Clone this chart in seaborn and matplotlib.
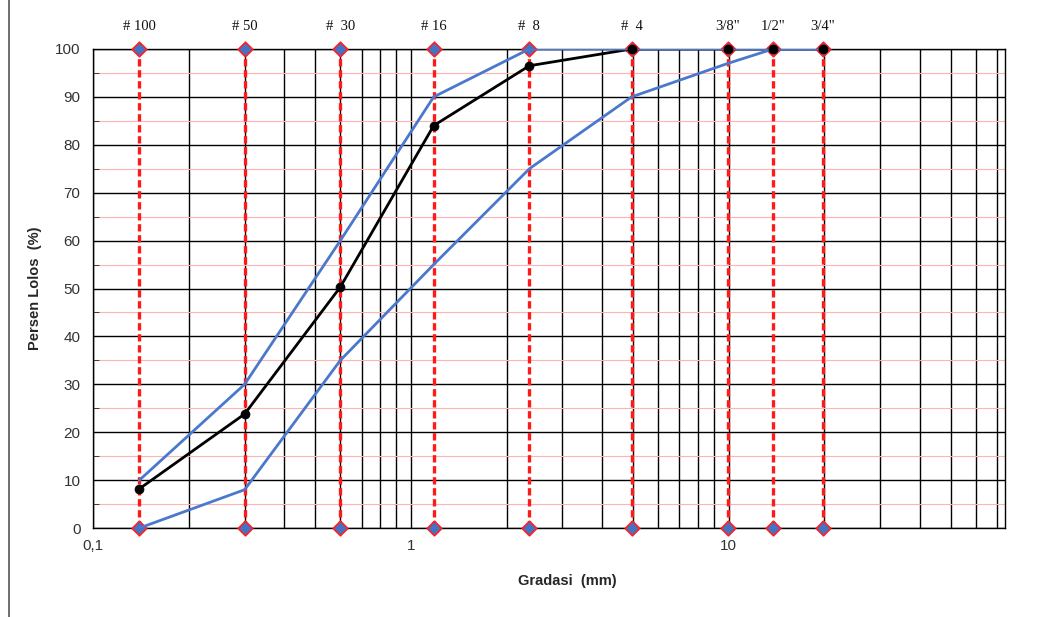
import numpy as np
import pandas as pd
import matplotlib
matplotlib.use("Agg")
import matplotlib.pyplot as plt
import matplotlib.ticker as mticker
import seaborn as sns

# ---- data ----
sieve_labels = ["# 100", "# 50", "#  30", "# 16", "#  8", "#  4", '3/8"', '1/2"', '3/4"']
sieve_sizes = [0.14, 0.30, 0.60, 1.18, 2.36, 4.95, 9.95, 13.8, 19.8]
sample_pass = [8.2, 23.8, 50.3, 84.0, 96.5, 100, 100, 100, 100]
upper_limit = [10, 30, 60, 90, 100, 100, 100, 100, 100]
lower_limit = [0, 8, 35, 55, 75, 90, 97, 100, 100]
y_ticks = [0, 10, 20, 30, 40, 50, 60, 70, 80, 90, 100]
x_ticks = [0.1, 1, 10]
x_tick_labels = ["0,1", "1", "10"]

sns.set_style("white")
plt.rcParams["font.family"] = ["Liberation Sans", "DejaVu Sans"]

fig = plt.figure(figsize=(10.41, 6.17), dpi=100)
ax = fig.add_axes([0.0893, 0.1442, 0.8761, 0.7764])
ax.set_xscale("log")
ax.set_xlim(0.1, 74)
ax.set_ylim(0, 100)

# grid
ax.yaxis.set_major_locator(mticker.FixedLocator(y_ticks))
ax.yaxis.set_minor_locator(mticker.MultipleLocator(5))
ax.xaxis.set_major_locator(mticker.FixedLocator(x_ticks))
ax.xaxis.set_major_formatter(mticker.FixedFormatter(x_tick_labels))
ax.xaxis.set_minor_locator(mticker.LogLocator(base=10, subs=np.arange(2, 10)))
ax.xaxis.set_minor_formatter(mticker.NullFormatter())
ax.grid(True, which="major", axis="both", color="black", lw=1.0, zorder=0)
ax.grid(True, which="minor", axis="x", color="black", lw=1.0, zorder=0)
ax.grid(True, which="minor", axis="y", color="#ffb3b3", lw=0.8, zorder=0)
ax.set_axisbelow(True)

# sieve dashed lines with diamond markers
for s in sieve_sizes:
    ax.plot([s, s], [0, 100], color="#ff1a1a", lw=2.4, ls=(0, (2.2, 1.1)), zorder=2)
marker_df = pd.DataFrame({"x": sieve_sizes * 2, "y": [0] * len(sieve_sizes) + [100] * len(sieve_sizes)})
sns.scatterplot(data=marker_df, x="x", y="y", marker="D", s=55, color="#4472c4",
                edgecolor="#ff2020", linewidth=1.2, ax=ax, zorder=3, clip_on=False)

# sample line, then limits, then sample markers
sns.lineplot(x=sieve_sizes, y=sample_pass, color="black", lw=2.0, ax=ax, zorder=4, sort=False)
sns.lineplot(x=sieve_sizes, y=upper_limit, color="#4a78cc", lw=2.0, ax=ax, zorder=5, sort=False)
sns.lineplot(x=sieve_sizes, y=lower_limit, color="#4a78cc", lw=2.0, ax=ax, zorder=5, sort=False)
sns.scatterplot(x=sieve_sizes, y=sample_pass, color="black", s=42, edgecolor="black",
                linewidth=0.5, ax=ax, zorder=6, clip_on=False)

# sieve labels on top
for s, lab in zip(sieve_sizes, sieve_labels):
    ax.text(s, 104.6, lab, ha="center", va="center", fontsize=10.5,
            family=["Liberation Serif", "DejaVu Serif"], color="#111111", clip_on=False)

# ticks / spines
for sp in ax.spines.values():
    sp.set_visible(True)
    sp.set_color("black")
    sp.set_linewidth(1.0)
ax.tick_params(axis="y", which="major", length=5, direction="out", labelsize=11, pad=4, colors="black")
ax.tick_params(axis="y", which="minor", length=4, direction="in", left=True)
ax.tick_params(axis="x", which="major", length=0, labelsize=11, pad=8)
ax.tick_params(axis="x", which="minor", length=0)
for t in ax.get_yticklabels() + ax.get_xticklabels():
    t.set_color("#333333")

ax.set_xlabel("Gradasi  (mm)", fontsize=10.5, fontweight="bold")
ax.set_ylabel("Persen Lolos  (%)", fontsize=10.5, fontweight="bold")
ax.xaxis.set_label_coords(0.52, -0.095)
ax.yaxis.set_label_coords(-0.056, 0.5)

# page border on the left
fig.add_artist(plt.Line2D([0.009, 0.009], [0, 1], color="#555555", lw=1.2, transform=fig.transFigure))

fig.savefig("out.png", dpi=100, facecolor="white")
